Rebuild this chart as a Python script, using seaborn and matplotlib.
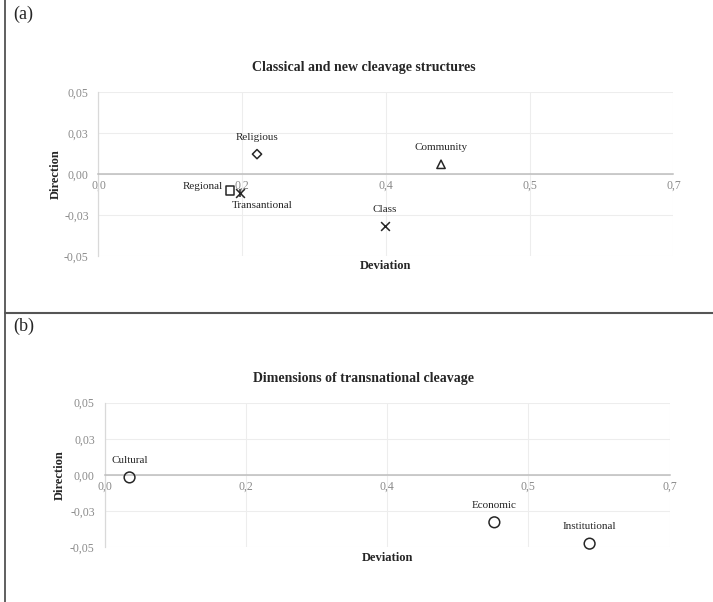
import matplotlib
matplotlib.use("Agg")
import matplotlib.pyplot as plt
import seaborn as sns
from matplotlib.lines import Line2D

# panel (a): classical and new cleavages
CLEAVAGES = ["Religious", "Community", "Regional", "Transantional", "Class"]
CLEAVAGE_DEV = [0.193, 0.417, 0.160, 0.172, 0.349]
CLEAVAGE_DIR = [0.0121, 0.0059, -0.0102, -0.0118, -0.0317]
CLEAVAGE_MARKERS = ["D", "^", "s", "star", "x"]

# panel (b): dimensions of the transnational cleavage
DIMENSIONS = ["Cultural", "Economic", "Institutional"]
DIMENSION_DEV = [0.031, 0.483, 0.601]
DIMENSION_DIR = [-0.0018, -0.0329, -0.0477]

X_TICKS = [0.0, 0.175, 0.35, 0.525, 0.7]
X_TICK_LABELS = ["0,0", "0,2", "0,4", "0,5", "0,7"]
Y_TICKS = [-0.05, -0.025, 0.0, 0.025, 0.05]
Y_TICK_LABELS = ["-0,05", "-0,03", "0,00", "0,03", "0,05"]

# label offsets (points) and alignment
LABEL_POS = {
    "Religious": ((0, 12), "center"),
    "Community": ((0, 12), "center"),
    "Regional": ((-5, 3), "right"),
    "Transantional": ((16, -9), "center"),
    "Class": ((0, 12), "center"),
    "Cultural": ((0, 12), "center"),
    "Economic": ((0, 12), "center"),
    "Institutional": ((0, 12), "center"),
}
MARKER_SIZE = {"D": 22, "^": 36, "s": 40, "x": 40, "|": 40, "o": 60}

INK = "#262626"

sns.set_style("white")
plt.rcParams["font.family"] = ["Liberation Serif", "DejaVu Serif"]


def style_axes(ax, title, title_x, xlabel_y, ylabel_x):
    ax.set_xlim(0, 0.7)
    ax.set_ylim(-0.05, 0.05)
    ax.set_xticks(X_TICKS, X_TICK_LABELS)
    ax.set_yticks(Y_TICKS, Y_TICK_LABELS)
    ax.set_axisbelow(True)
    ax.grid(True, color="#ededed", lw=0.8)
    ax.spines["top"].set_visible(False)
    ax.spines["right"].set_visible(False)
    ax.spines["bottom"].set_position(("data", 0))
    ax.spines["bottom"].set_color("#bdbdbd")
    ax.spines["bottom"].set_linewidth(1.1)
    ax.spines["left"].set_color("#d9d9d9")
    ax.spines["left"].set_linewidth(0.9)
    ax.tick_params(axis="x", length=0, labelsize=8.5, labelcolor="#8a8a8a", pad=4)
    ax.tick_params(axis="y", length=0, labelsize=8.5, labelcolor="#8a8a8a", pad=7)
    ax.set_title(title, x=title_x, pad=15, fontsize=10, fontweight="bold", color=INK)
    ax.set_xlabel("Deviation", fontsize=9, fontweight="bold", color=INK)
    ax.set_ylabel("Direction", fontsize=9, fontweight="bold", color=INK)
    ax.xaxis.set_label_coords(0.5, xlabel_y)
    ax.yaxis.set_label_coords(ylabel_x, 0.5)


def scatter_one(ax, x, y, marker):
    m = matplotlib.markers.MarkerStyle(marker)
    size = MARKER_SIZE[marker]
    if m.is_filled():
        sns.scatterplot(x=[x], y=[y], marker=marker, s=size, ax=ax, color=INK,
                        facecolor="none", edgecolor=INK, linewidth=1.1,
                        zorder=3, clip_on=False)
    else:
        sns.scatterplot(x=[x], y=[y], marker=marker, s=size, ax=ax, color=INK,
                        linewidth=1.1, zorder=3, clip_on=False)


def draw_point(ax, name, x, y, marker):
    # Excel "star" marker = an x with a vertical bar through it
    if marker == "star":
        scatter_one(ax, x, y, "x")
        scatter_one(ax, x, y, "|")
    else:
        scatter_one(ax, x, y, marker)
    offset, ha = LABEL_POS[name]
    ax.annotate(name, (x, y), xytext=offset, textcoords="offset points",
                ha=ha, va="center", fontsize=8, color=INK)


fig = plt.figure(figsize=(7.13, 6.02), dpi=100)

ax_a = fig.add_axes([0.1381, 0.5748, 0.8065, 0.2724])
for name, x, y, mk in zip(CLEAVAGES, CLEAVAGE_DEV, CLEAVAGE_DIR, CLEAVAGE_MARKERS):
    draw_point(ax_a, name, x, y, mk)
style_axes(ax_a, "Classical and new cleavage structures", 0.462, -0.025, -0.063)

ax_b = fig.add_axes([0.1466, 0.0914, 0.7924, 0.2397])
for name, x, y in zip(DIMENSIONS, DIMENSION_DEV, DIMENSION_DIR):
    draw_point(ax_b, name, x, y, "o")
style_axes(ax_b, "Dimensions of transnational cleavage", 0.459, -0.035, -0.068)

# panel frame lines and letters
fig.add_artist(Line2D([5 / 713, 5 / 713], [0, 1], color="#444444", lw=1.2))
fig.add_artist(Line2D([5 / 713, 1], [1 - 313 / 602, 1 - 313 / 602], color="#555555", lw=1.5))
fig.text(13 / 713, 1 - 6 / 602, "(a)", fontsize=13, va="top", ha="left", color=INK)
fig.text(13 / 713, 1 - 318 / 602, "(b)", fontsize=13, va="top", ha="left", color=INK)

fig.savefig("out.png", dpi=100)
